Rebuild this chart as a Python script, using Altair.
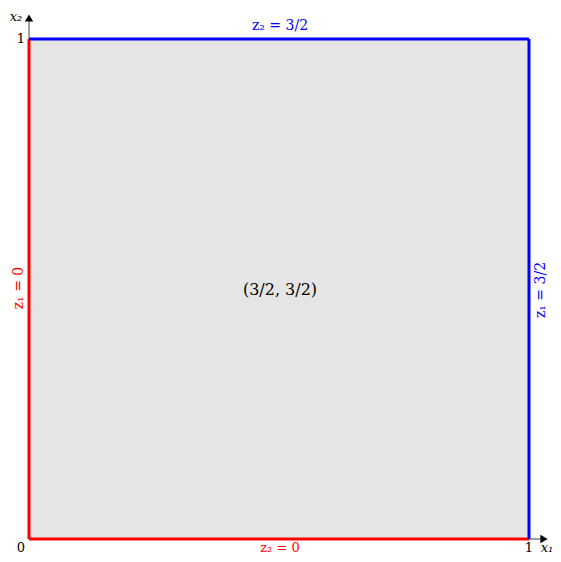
import altair as alt
import pandas as pd

# Region (unit square)
region_x = [0.0]
region_x2 = [1.0]
region_y = [0.0]
region_y2 = [1.0]

# Boundary edges
edge_x = [0.0, 0.0, 0.0, 1.0]
edge_y = [0.0, 1.0, 0.0, 0.0]
edge_x2 = [0.0, 1.0, 1.0, 1.0]
edge_y2 = [1.0, 1.0, 0.0, 1.0]
edge_color = ["red", "blue", "red", "blue"]

# Edge labels
label_text = ["z₂ = 3/2", "z₂ = 0", "z₁ = 0", "z₁ = 3/2"]
label_x = [0.502, 0.502, -0.02, 1.024]
label_y = [1.026, -0.017, 0.502, 0.498]
label_size = [14, 13, 14, 14]
label_color = ["blue", "red", "red", "blue"]
label_angle = [0, 0, 270, 270]

# Tick labels
tick_text = ["0", "1", "1"]
tick_x = [-0.016, 1.0, -0.016]
tick_y = [-0.018, -0.018, 1.0]

# Axis names
axis_text = ["x₁", "x₂"]
axis_x = [1.036, -0.026]
axis_y = [-0.018, 1.044]

center_text = ["(3/2, 3/2)"]
center_x = [0.502]
center_y = [0.498]

W, H = 545, 546
xs = alt.Scale(domain=[-0.042, 1.048], nice=False, zero=False)
ys = alt.Scale(domain=[-0.03, 1.062], nice=False, zero=False)
X = lambda f: alt.X(f, type="quantitative", scale=xs, axis=None)
Y = lambda f: alt.Y(f, type="quantitative", scale=ys, axis=None)

region = alt.Chart(pd.DataFrame({"x": region_x, "x2": region_x2, "y": region_y, "y2": region_y2})).mark_rect(
    color="#e5e5e5").encode(x=X("x"), x2="x2", y=Y("y"), y2="y2")

axes_df = pd.DataFrame({"x": [0.0, 0.0], "y": [0.0, 0.0], "x2": [1.03, 0.0], "y2": [0.0, 1.04]})
axes = alt.Chart(axes_df).mark_rule(color="#444", strokeWidth=1).encode(x=X("x"), x2="x2", y=Y("y"), y2="y2")

arrows_df = pd.DataFrame({"x": [1.03, 0.0], "y": [0.0, 1.042], "shape": ["triangle-right", "triangle-up"]})
arrows = alt.Chart(arrows_df).mark_point(filled=True, color="black", size=70, opacity=1).encode(
    x=X("x"), y=Y("y"), shape=alt.Shape("shape:N", scale=None))

edges_df = pd.DataFrame({"x": edge_x, "y": edge_y, "x2": edge_x2, "y2": edge_y2, "c": edge_color})
edges = alt.Chart(edges_df).mark_rule(strokeWidth=3).encode(
    x=X("x"), x2="x2", y=Y("y"), y2="y2", color=alt.Color("c:N", scale=None))

labels_df = pd.DataFrame({"t": label_text, "x": label_x, "y": label_y, "c": label_color,
                          "a": label_angle, "s": label_size})
labels = alt.Chart(labels_df).mark_text(font="DejaVu Serif").encode(
    x=X("x"), y=Y("y"), text="t:N", color=alt.Color("c:N", scale=None),
    angle=alt.Angle("a:Q", scale=None), size=alt.Size("s:Q", scale=None))

ticks = alt.Chart(pd.DataFrame({"t": tick_text, "x": tick_x, "y": tick_y})).mark_text(
    font="DejaVu Serif", fontSize=13, color="black").encode(x=X("x"), y=Y("y"), text="t:N")

axnames = alt.Chart(pd.DataFrame({"t": axis_text, "x": axis_x, "y": axis_y})).mark_text(
    font="DejaVu Serif", fontSize=13, fontStyle="italic", color="black").encode(x=X("x"), y=Y("y"), text="t:N")

center = alt.Chart(pd.DataFrame({"t": center_text, "x": center_x, "y": center_y})).mark_text(
    font="DejaVu Serif", fontSize=16, color="black").encode(x=X("x"), y=Y("y"), text="t:N")

chart = alt.layer(region, axes, arrows, edges, labels, ticks, axnames, center).properties(
    width=W, height=H, autosize=alt.AutoSizeParams(type="none"), padding=0
).configure_view(stroke=None)

chart.save("out.html", embed_options={"renderer": "svg", "actions": False})
